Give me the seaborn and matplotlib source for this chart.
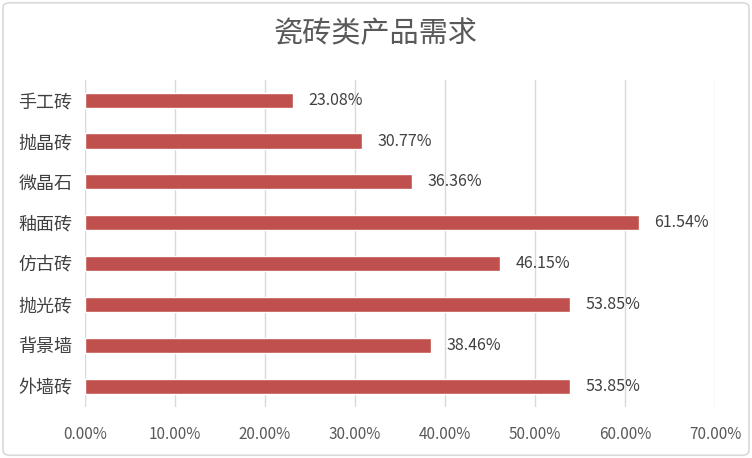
import pandas as pd
import seaborn as sns
import matplotlib.pyplot as plt
from matplotlib.patches import FancyBboxPatch
from matplotlib.ticker import FuncFormatter

categories = ["手工砖", "抛晶砖", "微晶石", "釉面砖", "仿古砖", "抛光砖", "背景墙", "外墙砖"]
values = [23.08, 30.77, 36.36, 61.54, 46.15, 53.85, 38.46, 53.85]
x_ticks = [0, 10, 20, 30, 40, 50, 60, 70]

df = pd.DataFrame({"category": categories, "value": values})

sns.set_style("white")
plt.rcParams["font.family"] = ["Noto Sans CJK SC", "DejaVu Sans"]

fig = plt.figure(figsize=(7.52, 4.58), dpi=100)
ax = fig.add_axes([0.113, 0.112, 0.838, 0.714])

sns.barplot(data=df, y="category", x="value", orient="h", color="#C0504D",
            saturation=1, width=0.37, ax=ax)

for i, v in enumerate(values):
    ax.text(v + 1.7, i, f"{v:.2f}%", va="center", ha="left",
            fontsize=11.5, color="#404040")

ax.set_xlim(0, 70)
ax.set_xticks(x_ticks)
ax.xaxis.set_major_formatter(FuncFormatter(lambda x, _: f"{x:.2f}%"))
ax.grid(axis="x", color="#D9D9D9", linewidth=1)
ax.set_axisbelow(True)
for s in ax.spines.values():
    s.set_visible(False)
ax.tick_params(axis="x", labelsize=11, labelcolor="#595959", length=0, pad=14)
ax.tick_params(axis="y", labelsize=13, labelcolor="#404040", length=0, pad=9)
ax.set_xlabel("")
ax.set_ylabel("")

fig.text(0.5, 0.925, "瓷砖类产品需求", ha="center", va="center",
         fontsize=21, color="#595959")

border = FancyBboxPatch((0.004, 0.006), 0.992, 0.988,
                        boxstyle="round,pad=0,rounding_size=0.01",
                        transform=fig.transFigure, facecolor="none",
                        edgecolor="#D9D9D9", linewidth=1.2)
fig.patches.append(border)

fig.savefig("out.png", dpi=100)
